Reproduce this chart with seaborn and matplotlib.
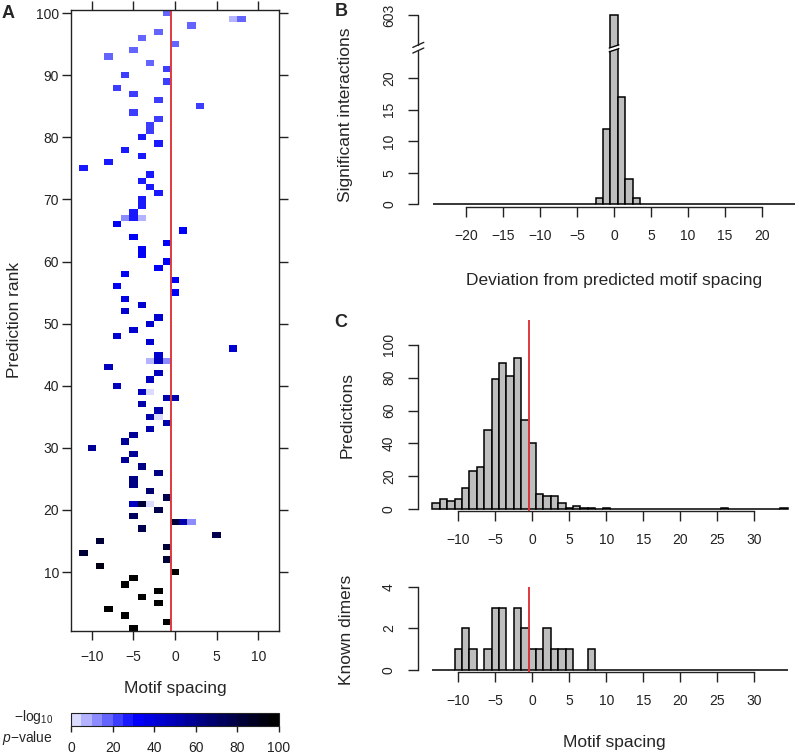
import numpy as np
import pandas as pd
import matplotlib
matplotlib.use('Agg')
import matplotlib.pyplot as plt
import matplotlib.transforms as mtrans
from matplotlib.colors import LinearSegmentedColormap, ListedColormap
from matplotlib.patches import Polygon
import seaborn as sns

# Panel A: one tile per (prediction rank, motif spacing), colour = -log10 p-value
tile_rank = [100, 99, 99, 98, 97, 96, 95, 94, 93, 92,
             91, 90, 89, 88, 87, 86, 85, 84, 83, 82,
             81, 80, 79, 78, 77, 76, 75, 74, 73, 72,
             71, 70, 69, 68, 67, 67, 67, 66, 65, 64,
             63, 62, 61, 60, 59, 58, 57, 56, 55, 54,
             53, 52, 51, 50, 49, 48, 47, 46, 45, 44, 44, 44,
             43, 42, 41, 40, 39, 39, 38, 38, 37, 36,
             35, 35, 34, 33, 32, 31, 30, 29, 28, 27,
             26, 25, 24, 23, 22, 21, 21, 21, 20, 19,
             18, 18, 18, 17, 16, 15, 14, 13, 12, 11,
             10, 9, 8, 7, 6, 5, 4, 3, 2, 1]
tile_spacing = [-1, 7, 8, 2, -2, -4, 0, -5, -8, -3,
                -1, -6, -1, -7, -5, -2, 3, -5, -2, -3,
                -3, -4, -2, -6, -4, -8, -11, -3, -4, -3,
                -2, -4, -4, -5, -6, -5, -4, -7, 1, -5,
                -1, -4, -4, -1, -2, -6, 0, -7, 0, -6,
                -4, -6, -2, -3, -5, -7, -3, 7, -2, -3, -2, -1,
                -8, -2, -3, -7, -4, -3, -1, 0, -4, -2,
                -3, -2, -1, -3, -5, -6, -10, -5, -6, -4,
                -2, -5, -5, -3, -1, -5, -4, -3, -2, -5,
                0, 1, 2, -4, 5, -9, -1, -11, -1, -9,
                0, -5, -6, -2, -4, -2, -8, -6, -1, -5]
tile_score = [16, 6, 19, 19, 19, 19, 19, 19, 19, 19,
              21, 21, 21, 22, 22, 22, 24, 24, 24, 24,
              24, 26, 26, 26, 26, 26, 27, 27, 27, 28,
              28, 29, 29, 29, 14, 29, 8, 30, 30, 30,
              31, 31, 31, 32, 32, 32, 33, 33, 34, 38,
              40, 40, 42, 42, 42, 42, 44, 44, 44, 8, 45, 12,
              45, 46, 46, 48, 48, 4, 50, 50, 50, 52,
              52, 4, 54, 54, 55, 56, 57, 58, 58, 60,
              62, 63, 64, 66, 78, 45, 80, 4, 78, 74,
              82, 50, 12, 76, 78, 80, 80, 82, 82, 90,
              100, 100, 100, 100, 100, 100, 100, 100, 100, 100]

# Panel B: deviation from predicted spacing (603 drawn on a broken axis)
dev_spacing = [-2, -1, 0, 1, 2, 3]
dev_count = [1, 12, 603, 17, 4, 1]

# Panel C: predicted spacings and known dimers
pred_spacing = [-13, -12, -11, -10, -9, -8, -7, -6, -5, -4, -3, -2, -1,
                0, 1, 2, 3, 4, 5, 6, 7, 8, 10, 26, 34]
pred_count = [4, 6, 5, 6, 13, 23, 26, 48, 79, 89, 81, 92, 54,
              40, 9, 8, 8, 4, 1, 2, 1, 1, 1, 1, 1]
dimer_spacing = [-10, -9, -8, -6, -5, -4, -2, -1, 0, 1, 2, 3, 4, 5, 8]
dimer_count = [1, 2, 1, 1, 3, 3, 3, 2, 1, 1, 2, 1, 1, 1, 1]

ref_spacing = -0.5
W, H = 812, 754

sns.set_style('ticks')
plt.rcParams['font.family'] = ['Liberation Sans', 'DejaVu Sans']
plt.rcParams['mathtext.fontset'] = 'custom'
plt.rcParams['mathtext.rm'] = 'Liberation Sans'
plt.rcParams['mathtext.it'] = 'Liberation Sans:italic'
plt.rcParams['axes.linewidth'] = 1.0
plt.rcParams['xtick.major.width'] = 1.0
plt.rcParams['ytick.major.width'] = 1.0
plt.rcParams['xtick.color'] = '#222222'
plt.rcParams['ytick.color'] = '#222222'
plt.rcParams['axes.edgecolor'] = '#222222'


def box(l, t, r, b):
    return [l / W, 1 - b / H, (r - l) / W, (b - t) / H]


def ftext(x, y, s, **kw):
    fig.text(x / W, 1 - y / H, s, **kw)


fig = plt.figure(figsize=(W / 100, H / 100), dpi=100)
red = '#e0393e'
fs = 10
lfs = 12.5

# ---------------- Panel A
base = LinearSegmentedColormap.from_list('wbk', [(0, 'white'), (0.33, 'blue'), (1, 'black')])
cmap = ListedColormap([base((i + 1) / 20) for i in range(20)])

tiles = pd.DataFrame({'rank': tile_rank, 'spacing': tile_spacing, 'score': tile_score})
grid = tiles.pivot(index='rank', columns='spacing', values='score')
grid = grid.reindex(index=range(100, 0, -1), columns=range(-12, 13))

axA = fig.add_axes(box(71, 10, 279, 631))
cax = fig.add_axes(box(71, 713, 279, 726))
sns.heatmap(grid, ax=axA, cmap=cmap, vmin=0, vmax=100, cbar_ax=cax,
            cbar_kws={'orientation': 'horizontal', 'ticks': [0, 20, 40, 60, 80, 100]},
            xticklabels=False, yticklabels=False)
for sp in axA.spines.values():
    sp.set_visible(True)
axA.axvline(ref_spacing + 12.5, color=red, lw=1.4)
xt = [-10, -5, 0, 5, 10]
axA.set_xticks([v + 12.5 for v in xt])
axA.set_xticklabels([str(v).replace('-', '\u2212') for v in xt], fontsize=fs)
yt = list(range(100, 0, -10))
axA.set_yticks([100 - r + 0.5 for r in yt])
axA.set_yticklabels([str(r) for r in yt], fontsize=fs, rotation=0)
axA.tick_params(top=True, right=True, labeltop=False, labelright=False,
                direction='out', length=6.5)
axA.tick_params(axis='x', pad=7)
axA.tick_params(axis='y', pad=2)
axA.set_xlabel('')
axA.set_ylabel('')

cb = axA.collections[0].colorbar
cb.outline.set_visible(True)
cb.outline.set_linewidth(0.8)
cb.outline.set_edgecolor('#222222')
cax.tick_params(length=4, pad=7, labelsize=fs)

ftext(175, 688, 'Motif spacing', ha='center', va='center', fontsize=lfs)
ftext(15, 320, 'Prediction rank', ha='center', va='center', rotation=90, fontsize=lfs)
ftext(53, 717, '\u2212log$_{10}$', ha='right', va='center', fontsize=10)
ftext(53, 738, '$p$\u2212value', ha='right', va='center', fontsize=10)
ftext(8, 13, 'A', ha='center', va='center', fontsize=13, fontweight='bold')

bar_kw = dict(discrete=True, color='#bebebe', edgecolor='black', linewidth=1.1, alpha=1)

# ---------------- Panel B (broken y axis between 25 and 598)
gap_lo, gap_hi = 25, 598
dev_shown = [c if c <= gap_lo else c - (gap_hi - gap_lo) for c in dev_count]

axB = fig.add_axes(box(418.3, 7.7, 809.8, 206.7))
sns.histplot(x=dev_spacing, weights=dev_shown, binrange=(-24, 24), ax=axB, **bar_kw)
axB.set_xlim(-26.46, 26.46)
axB.set_ylim(-0.38, 31.2)
sns.despine(ax=axB, left=True)
axB.spines['bottom'].set_bounds(-20, 20)
axB.set_xticks(range(-20, 21, 5))
axB.set_xticklabels([str(v).replace('-', '\u2212') for v in range(-20, 21, 5)], fontsize=fs)
axB.set_yticks([0, 5, 10, 15, 20, 30])
axB.set_yticklabels(['0', '5', '10', '15', '20', str(max(dev_count))],
                    rotation=90, va='center', fontsize=fs)
axB.tick_params(direction='out', length=7)
axB.tick_params(axis='y', pad=9)
axB.tick_params(axis='x', pad=9)
axB.set_xlabel('')
axB.set_ylabel('')
tr = mtrans.blended_transform_factory(axB.transAxes, axB.transData)
axB.plot([0, 0], [0, 24.4], transform=tr, color='#222222', lw=1, clip_on=False)
axB.plot([0, 0], [25.3, 30], transform=tr, color='#222222', lw=1, clip_on=False)
for y0 in (24.0, 24.9):
    axB.plot([-0.014, 0.014], [y0, y0 + 0.8], transform=tr, color='#222222', lw=1, clip_on=False)
axB.add_patch(Polygon([(-0.65, 24.2), (0.65, 24.7), (0.65, 25.3), (-0.65, 24.8)],
                      closed=True, facecolor='white', edgecolor='none', zorder=4))
for y0 in (24.2, 24.8):
    axB.plot([-0.65, 0.65], [y0, y0 + 0.5], color='black', lw=1, zorder=5)

ftext(614, 280, 'Deviation from predicted motif spacing', ha='center', va='center', fontsize=lfs)
ftext(346, 115, 'Significant interactions', ha='center', va='center', rotation=90, fontsize=lfs)
ftext(341, 12, 'B', ha='center', va='center', fontsize=13, fontweight='bold')

# ---------------- Panel C
axC1 = fig.add_axes(box(418.2, 320, 801.8, 510.7))
sns.histplot(x=pred_spacing, weights=pred_count, binrange=(-13, 34), ax=axC1, **bar_kw)
axC1.axvline(ref_spacing, color=red, lw=1.4, zorder=5)
axC1.set_xlim(-15.42, 36.42)
axC1.set_ylim(-0.85, 115)
sns.despine(ax=axC1)
axC1.spines['left'].set_bounds(0, 100)
axC1.spines['bottom'].set_bounds(-10, 30)
axC1.set_yticks(range(0, 101, 20))
axC1.set_yticklabels([str(v) for v in range(0, 101, 20)], rotation=90, va='center', fontsize=fs)

axC2 = fig.add_axes(box(418.2, 586.7, 801.8, 671.7))
sns.histplot(x=dimer_spacing, weights=dimer_count, binrange=(-13, 34), ax=axC2, **bar_kw)
axC2.axvline(ref_spacing, color=red, lw=1.4, zorder=5)
axC2.set_xlim(-15.42, 36.42)
axC2.set_ylim(-0.08, 4.0)
sns.despine(ax=axC2)
axC2.spines['left'].set_bounds(0, 4)
axC2.spines['bottom'].set_bounds(-10, 30)
axC2.set_yticks([0, 2, 4])
axC2.set_yticklabels(['0', '2', '4'], rotation=90, va='center', fontsize=fs)

for ax in (axC1, axC2):
    ax.set_xticks(range(-10, 31, 5))
    ax.set_xticklabels([str(v).replace('-', '\u2212') for v in range(-10, 31, 5)], fontsize=fs)
    ax.tick_params(direction='out', length=7)
    ax.tick_params(axis='y', pad=9)
    ax.tick_params(axis='x', pad=9)
    ax.set_xlabel('')
    ax.set_ylabel('')

ftext(347, 415, 'Predictions', ha='center', va='center', rotation=90, fontsize=lfs)
ftext(347, 630, 'Known dimers', ha='center', va='center', rotation=90, fontsize=lfs)
ftext(614, 743, 'Motif spacing', ha='center', va='center', fontsize=lfs)
ftext(341, 322, 'C', ha='center', va='center', fontsize=13, fontweight='bold')

fig.savefig('out.png', dpi=100)
